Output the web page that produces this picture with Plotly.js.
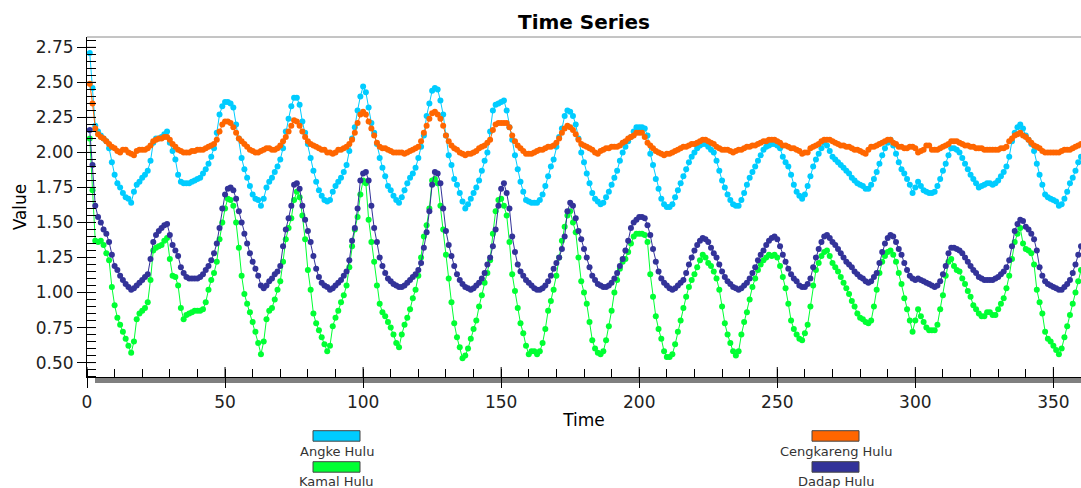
<!DOCTYPE html>
<html><head><meta charset="utf-8">
<script src="https://cdn.plot.ly/plotly-3.0.1.min.js"></script>
<style>html,body{margin:0;padding:0;background:#fff}#chart{width:1081px;height:488px}</style>
</head><body><div id="chart"></div>
<script>
const seriesNames = ['Angke Hulu', 'Cengkareng Hulu', 'Kamal Hulu', 'Dadap Hulu'];
const seriesColors = ['#00CCFF', '#FF6600', '#00FF33', '#333399'];
const xTickVals = [0, 50, 100, 150, 200, 250, 300, 350];
const yTickVals = [0.5, 0.75, 1.0, 1.25, 1.5, 1.75, 2.0, 2.25, 2.5, 2.75];

const angke = [
2.71,2.46,2.19,2.15,2.12,2.10,2.08,2.03,1.93,1.84,
1.78,1.75,1.71,1.68,1.67,1.64,1.72,1.77,1.79,1.82,
1.84,1.87,1.94,2.07,2.10,2.10,2.11,2.13,2.15,2.07,
2.01,1.95,1.84,1.79,1.78,1.78,1.78,1.79,1.80,1.81,
1.82,1.85,1.88,1.92,1.97,2.03,2.14,2.27,2.33,2.36,
2.36,2.35,2.32,2.20,2.10,1.96,1.88,1.82,1.76,1.70,
1.67,1.66,1.62,1.67,1.75,1.79,1.82,1.86,1.90,1.95,
2.03,2.15,2.24,2.33,2.39,2.39,2.34,2.22,2.14,2.06,
1.96,1.87,1.79,1.73,1.69,1.66,1.65,1.66,1.72,1.76,
1.79,1.82,1.86,1.91,2.01,2.10,2.18,2.30,2.40,2.47,
2.43,2.32,2.21,2.14,2.06,1.96,1.89,1.83,1.76,1.73,
1.69,1.66,1.64,1.68,1.73,1.78,1.82,1.85,1.89,1.96,
2.04,2.12,2.26,2.35,2.44,2.46,2.45,2.37,2.27,2.12,
1.98,1.91,1.81,1.77,1.71,1.65,1.60,1.63,1.67,1.71,
1.75,1.80,1.87,1.94,2.00,2.15,2.30,2.34,2.35,2.36,
2.37,2.30,2.18,2.09,1.98,1.88,1.79,1.72,1.66,1.65,
1.64,1.64,1.64,1.66,1.70,1.76,1.83,1.90,1.95,2.04,
2.11,2.17,2.26,2.30,2.29,2.26,2.20,2.10,2.00,1.93,
1.85,1.78,1.71,1.67,1.65,1.63,1.64,1.68,1.72,1.77,
1.82,1.87,1.94,2.00,2.04,2.08,2.11,2.15,2.18,2.18,
2.18,2.17,2.12,1.99,1.91,1.81,1.74,1.67,1.63,1.61,
1.61,1.63,1.68,1.73,1.78,1.83,1.88,1.93,1.97,2.00,
2.03,2.05,2.06,2.06,2.04,2.02,2.00,1.94,1.87,1.80,
1.75,1.70,1.66,1.63,1.62,1.62,1.66,1.71,1.77,1.82,
1.86,1.90,1.94,1.98,2.02,2.04,2.05,2.06,2.06,2.05,
2.03,1.97,1.93,1.90,1.84,1.77,1.72,1.69,1.67,1.70,
1.76,1.83,1.90,1.95,1.99,2.03,2.07,2.05,2.01,1.97,
1.95,1.93,1.91,1.89,1.87,1.85,1.82,1.80,1.78,1.77,
1.76,1.74,1.74,1.77,1.81,1.86,1.92,1.98,2.03,2.07,
2.09,2.05,1.99,1.93,1.88,1.85,1.81,1.77,1.71,1.75,
1.79,1.76,1.73,1.72,1.71,1.71,1.72,1.76,1.81,1.87,
1.92,1.98,2.03,2.03,2.02,2.00,1.96,1.92,1.88,1.84,
1.81,1.78,1.75,1.76,1.77,1.78,1.78,1.77,1.78,1.80,
1.83,1.86,1.90,1.97,2.08,2.14,2.18,2.20,2.17,2.12,
2.09,2.06,2.01,1.92,1.84,1.77,1.70,1.68,1.67,1.66,
1.65,1.62,1.63,1.67,1.72,1.78,1.82,1.87,1.93,1.97];

const cengkareng = [
2.49,2.35,2.17,2.13,2.11,2.10,2.08,2.06,2.04,2.03,
2.01,2.00,2.02,2.02,2.00,1.99,1.98,2.01,2.02,2.02,
2.02,2.03,2.05,2.08,2.09,2.10,2.10,2.11,2.11,2.09,
2.06,2.04,2.02,2.01,2.00,2.00,2.00,2.01,2.01,2.02,
2.02,2.02,2.03,2.04,2.05,2.06,2.09,2.15,2.20,2.22,
2.22,2.21,2.18,2.14,2.10,2.08,2.06,2.04,2.02,2.01,
2.00,2.00,2.01,2.02,2.03,2.03,2.02,2.02,2.03,2.05,
2.08,2.11,2.15,2.19,2.23,2.22,2.19,2.15,2.11,2.08,
2.06,2.05,2.04,2.03,2.02,2.02,2.00,2.00,1.99,2.00,
2.02,2.02,2.03,2.04,2.06,2.09,2.14,2.21,2.27,2.29,
2.27,2.22,2.17,2.12,2.07,2.04,2.03,2.03,2.02,2.01,
2.00,2.00,2.00,2.00,1.99,2.00,2.01,2.02,2.03,2.04,
2.08,2.14,2.19,2.24,2.28,2.29,2.27,2.24,2.19,2.12,
2.08,2.05,2.03,2.02,2.00,1.99,1.98,1.99,1.99,2.00,
2.01,2.03,2.04,2.05,2.07,2.09,2.16,2.20,2.21,2.21,
2.21,2.21,2.18,2.12,2.08,2.05,2.03,2.01,1.99,1.99,
1.99,2.00,2.01,2.02,2.02,2.03,2.04,2.04,2.05,2.07,
2.10,2.14,2.17,2.19,2.18,2.16,2.13,2.09,2.06,2.05,
2.04,2.03,2.02,2.00,1.99,2.01,2.02,2.03,2.03,2.04,
2.04,2.04,2.05,2.07,2.08,2.10,2.11,2.12,2.14,2.14,
2.14,2.11,2.07,2.05,2.03,2.01,2.00,1.99,1.98,1.99,
1.99,2.00,2.01,2.02,2.03,2.04,2.04,2.05,2.06,2.06,
2.07,2.08,2.09,2.09,2.08,2.07,2.06,2.04,2.03,2.02,
2.02,2.02,2.01,2.00,2.01,2.02,2.02,2.03,2.04,2.04,
2.05,2.05,2.06,2.07,2.08,2.08,2.09,2.09,2.09,2.08,
2.07,2.05,2.05,2.04,2.03,2.03,2.02,2.01,1.99,2.00,
2.00,2.03,2.04,2.05,2.06,2.08,2.09,2.09,2.09,2.08,
2.07,2.06,2.05,2.05,2.04,2.04,2.03,2.02,2.02,2.01,
2.00,1.99,2.02,2.04,2.04,2.05,2.06,2.07,2.08,2.09,
2.09,2.07,2.06,2.04,2.04,2.03,2.03,2.04,2.04,2.03,
2.00,2.01,2.02,2.05,2.05,2.02,2.02,2.02,2.03,2.04,
2.05,2.06,2.08,2.08,2.08,2.07,2.06,2.05,2.05,2.04,
2.04,2.03,2.03,2.03,2.02,2.02,2.02,2.02,2.02,2.02,
2.03,2.03,2.04,2.08,2.10,2.12,2.13,2.14,2.12,2.11,
2.09,2.07,2.05,2.04,2.03,2.01,2.00,2.00,2.00,2.00,
2.00,2.00,2.01,2.02,2.02,2.02,2.03,2.04,2.05,2.06];

const kamal = [
2.10,1.73,1.37,1.36,1.37,1.34,1.28,1.23,1.04,0.91,
0.82,0.77,0.72,0.67,0.62,0.57,0.65,0.81,0.85,0.87,
0.89,0.93,1.09,1.30,1.32,1.33,1.34,1.37,1.39,1.24,
1.12,1.11,1.05,0.89,0.81,0.84,0.85,0.86,0.87,0.87,
0.87,0.88,0.93,1.02,1.09,1.14,1.22,1.38,1.50,1.60,
1.67,1.66,1.62,1.50,1.32,1.12,0.99,0.92,0.86,0.79,
0.72,0.64,0.56,0.65,0.81,0.87,0.89,0.95,1.02,1.08,
1.22,1.38,1.46,1.53,1.66,1.72,1.68,1.55,1.38,1.16,
1.02,0.85,0.78,0.73,0.68,0.63,0.58,0.62,0.76,0.82,
0.87,0.93,0.98,1.05,1.18,1.33,1.45,1.54,1.70,1.80,
1.78,1.52,1.36,1.22,1.05,0.92,0.86,0.83,0.79,0.75,
0.70,0.64,0.61,0.70,0.77,0.82,0.88,0.96,1.02,1.12,
1.25,1.40,1.48,1.60,1.80,1.81,1.78,1.62,1.45,1.27,
1.10,0.93,0.78,0.68,0.61,0.53,0.55,0.60,0.67,0.74,
0.80,0.90,0.98,1.07,1.14,1.23,1.42,1.58,1.66,1.67,
1.62,1.55,1.36,1.13,1.01,0.89,0.78,0.71,0.62,0.56,
0.58,0.58,0.56,0.58,0.64,0.74,0.87,0.94,1.02,1.12,
1.25,1.37,1.47,1.55,1.58,1.50,1.43,1.25,1.08,1.00,
0.92,0.79,0.66,0.60,0.57,0.56,0.58,0.66,0.76,0.87,
1.00,1.09,1.17,1.22,1.24,1.29,1.35,1.40,1.42,1.42,
1.42,1.41,1.36,1.13,0.97,0.83,0.74,0.67,0.58,0.54,
0.54,0.56,0.63,0.72,0.80,0.89,0.97,1.04,1.09,1.13,
1.18,1.23,1.27,1.25,1.21,1.19,1.15,1.10,1.02,0.90,
0.78,0.70,0.64,0.58,0.55,0.58,0.70,0.79,0.86,0.95,
1.04,1.10,1.16,1.20,1.23,1.25,1.27,1.26,1.27,1.25,
1.19,1.11,1.03,0.92,0.80,0.74,0.70,0.67,0.66,0.71,
0.77,0.90,1.05,1.16,1.21,1.26,1.29,1.30,1.26,1.21,
1.18,1.15,1.11,1.07,1.03,0.99,0.94,0.90,0.85,0.82,
0.81,0.79,0.78,0.80,0.90,1.02,1.14,1.22,1.26,1.29,
1.30,1.27,1.22,1.14,1.06,0.96,0.88,0.80,0.72,0.80,
0.88,0.83,0.79,0.75,0.73,0.73,0.73,0.77,0.88,0.98,
1.12,1.22,1.24,1.19,1.16,1.15,1.10,1.06,1.01,0.97,
0.91,0.88,0.85,0.83,0.83,0.86,0.86,0.84,0.84,0.88,
0.92,0.96,1.03,1.12,1.24,1.36,1.42,1.46,1.35,1.31,
1.30,1.28,1.20,1.02,0.93,0.85,0.72,0.67,0.65,0.62,
0.59,0.56,0.60,0.68,0.76,0.84,0.92,1.00,1.08,1.16];

const dadap = [
2.16,1.91,1.62,1.54,1.50,1.45,1.42,1.36,1.27,1.19,
1.16,1.12,1.09,1.06,1.04,1.02,1.03,1.05,1.07,1.09,
1.11,1.13,1.24,1.36,1.41,1.44,1.46,1.48,1.49,1.41,
1.34,1.30,1.26,1.18,1.14,1.11,1.10,1.10,1.10,1.10,
1.11,1.13,1.16,1.19,1.23,1.28,1.35,1.46,1.60,1.70,
1.74,1.75,1.73,1.67,1.58,1.50,1.42,1.35,1.28,1.22,
1.17,1.12,1.05,1.03,1.05,1.08,1.10,1.13,1.15,1.19,
1.33,1.45,1.53,1.62,1.77,1.78,1.74,1.62,1.52,1.44,
1.36,1.26,1.17,1.11,1.07,1.05,1.04,1.02,1.03,1.05,
1.07,1.09,1.12,1.15,1.23,1.37,1.46,1.60,1.80,1.85,
1.86,1.80,1.62,1.46,1.36,1.25,1.19,1.14,1.10,1.08,
1.06,1.05,1.04,1.04,1.05,1.07,1.09,1.11,1.13,1.16,
1.21,1.32,1.43,1.58,1.77,1.86,1.85,1.78,1.60,1.44,
1.34,1.26,1.19,1.13,1.09,1.06,1.04,1.03,1.02,1.03,
1.05,1.07,1.10,1.14,1.20,1.25,1.33,1.45,1.62,1.74,
1.78,1.71,1.60,1.40,1.29,1.20,1.15,1.12,1.09,1.07,
1.05,1.03,1.02,1.02,1.03,1.05,1.08,1.12,1.17,1.21,
1.25,1.31,1.40,1.58,1.64,1.62,1.53,1.44,1.38,1.31,
1.25,1.18,1.12,1.09,1.06,1.05,1.04,1.04,1.05,1.07,
1.10,1.14,1.19,1.24,1.30,1.37,1.46,1.50,1.52,1.54,
1.54,1.53,1.48,1.41,1.31,1.22,1.15,1.10,1.07,1.05,
1.03,1.02,1.03,1.05,1.07,1.09,1.14,1.20,1.25,1.30,
1.34,1.37,1.39,1.38,1.36,1.32,1.28,1.25,1.20,1.15,
1.11,1.08,1.06,1.04,1.03,1.02,1.03,1.05,1.07,1.10,
1.14,1.18,1.23,1.27,1.30,1.34,1.37,1.39,1.40,1.38,
1.33,1.27,1.22,1.17,1.13,1.10,1.08,1.05,1.04,1.04,
1.06,1.10,1.18,1.25,1.31,1.36,1.40,1.41,1.39,1.36,
1.34,1.31,1.28,1.25,1.22,1.20,1.18,1.15,1.13,1.11,
1.10,1.08,1.07,1.08,1.11,1.14,1.21,1.29,1.35,1.39,
1.41,1.40,1.36,1.31,1.27,1.21,1.16,1.12,1.10,1.09,
1.10,1.09,1.08,1.07,1.06,1.05,1.04,1.05,1.08,1.13,
1.19,1.28,1.32,1.32,1.31,1.30,1.28,1.25,1.22,1.19,
1.16,1.14,1.11,1.10,1.09,1.09,1.09,1.09,1.10,1.11,
1.13,1.15,1.18,1.23,1.33,1.44,1.49,1.52,1.51,1.47,
1.45,1.42,1.38,1.30,1.18,1.12,1.08,1.06,1.05,1.04,
1.03,1.02,1.02,1.04,1.06,1.09,1.14,1.20,1.27,1.33];

const seriesValues = [angke, cengkareng, kamal, dadap];
const time = angke.map((_, i) => i + 1);

const traces = seriesValues.map((vals, k) => ({
  type: 'scatter', mode: 'lines+markers', name: seriesNames[k],
  x: time, y: vals,
  line: {color: seriesColors[k], width: 1},
  marker: {color: seriesColors[k], size: 6, symbol: 'circle'},
  showlegend: false, hoverinfo: 'skip'
}));

// plot area in pixels: x 87..1081, y 37..377
const W = 1081, H = 488, L = 87, R = 0, T = 37, B = 111;
const pw = W - L - R, ph = H - T - B;
const px = v => (v - L) / pw;
const py = v => (H - B - v) / ph;

const shapes = [];
shapes.push({type: 'line', xref: 'paper', yref: 'paper', x0: 0, x1: 1, y0: 1, y1: 1, line: {color: '#8a8a8a', width: 1}});
shapes.push({type: 'rect', xref: 'paper', yref: 'paper', x0: px(95), x1: 1, ysizemode: 'pixel', yanchor: 0, y0: -6, y1: 0,
  fillcolor: '#808080', line: {width: 0}, layer: 'below'});
yTickVals.forEach(v => shapes.push({type: 'line', xref: 'paper', yref: 'y', xsizemode: 'pixel', xanchor: 0, x0: 0, x1: 9, y0: v, y1: v, line: {color: '#000', width: 1}}));
xTickVals.forEach(v => shapes.push({type: 'line', xref: 'x', yref: 'paper', ysizemode: 'pixel', yanchor: 0, y0: 0, y1: 10, x0: v, x1: v, line: {color: '#000', width: 1}}));

const legendPos = [
  {cx: 336.5, sy: 430.7, ty: 451.7},
  {cx: 835.5, sy: 430.7, ty: 451.7},
  {cx: 336.5, sy: 461.7, ty: 481.7},
  {cx: 835.5, sy: 461.7, ty: 481.7}
];
const annotations = [];
legendPos.forEach((p, k) => {
  shapes.push({type: 'rect', xref: 'paper', yref: 'paper', x0: px(p.cx - 23.5), x1: px(p.cx + 23.5), y0: py(p.sy + 10.5), y1: py(p.sy),
    fillcolor: seriesColors[k], line: {color: '#444', width: 1}});
  annotations.push({xref: 'paper', yref: 'paper', x: px(p.cx), y: py(p.ty), xanchor: 'center', yanchor: 'middle',
    text: seriesNames[k], showarrow: false, font: {family: 'DejaVu Sans', size: 13, color: '#333'}});
});

const layout = {
  width: W, height: H,
  margin: {l: L, r: R, t: T, b: B, pad: 0},
  paper_bgcolor: '#fff', plot_bgcolor: '#fff',
  title: {text: 'Time Series', x: 0.5, xanchor: 'center', xref: 'paper', y: 1 - 22 / H, yanchor: 'middle',
    font: {family: 'DejaVu Sans', size: 20, weight: 'bold', color: '#000'}},
  xaxis: {
    range: [0, 360], tickvals: xTickVals, ticktext: xTickVals.map(String),
    ticks: 'outside', ticklen: 10, tickcolor: '#000', tickwidth: 1,
    minor: {dtick: 10, tick0: 0, ticks: 'inside', ticklen: 8, tickcolor: '#000', tickwidth: 1, showgrid: false},
    showline: true, linecolor: '#000', linewidth: 1, showgrid: false, zeroline: false,
    tickfont: {family: 'DejaVu Sans', size: 17, color: '#222'},
    title: {text: 'Time', font: {family: 'DejaVu Sans', size: 17, color: '#000'}, standoff: 2}
  },
  yaxis: {
    range: [0.397, 2.824], tickvals: yTickVals, ticktext: yTickVals.map(v => v.toFixed(2)),
    ticks: 'outside', ticklen: 9, tickcolor: '#000', tickwidth: 1,
    minor: {dtick: 0.05, tick0: 0, ticks: 'inside', ticklen: 9, tickcolor: '#000', tickwidth: 1, showgrid: false},
    showline: true, linecolor: '#000', linewidth: 1, showgrid: false, zeroline: false,
    tickfont: {family: 'DejaVu Sans', size: 17, color: '#222'},
    title: {text: 'Value', font: {family: 'DejaVu Sans', size: 17, color: '#000'}, standoff: 4}
  },
  shapes: shapes,
  annotations: annotations,
  showlegend: false
};

Plotly.newPlot('chart', traces, layout, {displayModeBar: false, staticPlot: true});
</script>
</body></html>
